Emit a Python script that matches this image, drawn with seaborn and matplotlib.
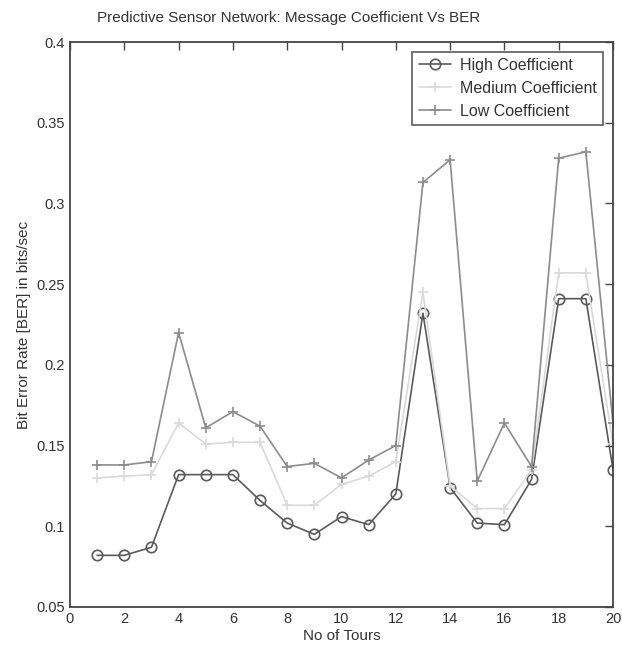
import matplotlib
matplotlib.use("Agg")
import matplotlib.pyplot as plt
import seaborn as sns
import pandas as pd

tours = list(range(1, 21))
high = [0.082, 0.082, 0.087, 0.132, 0.132, 0.132, 0.116, 0.102, 0.095, 0.106,
        0.101, 0.120, 0.232, 0.124, 0.102, 0.101, 0.129, 0.241, 0.241, 0.135]
medium = [0.130, 0.131, 0.132, 0.164, 0.151, 0.152, 0.152, 0.113, 0.113, 0.126,
          0.131, 0.140, 0.245, 0.125, 0.111, 0.111, 0.135, 0.257, 0.257, 0.151]
low = [0.138, 0.138, 0.140, 0.220, 0.161, 0.171, 0.162, 0.137, 0.139, 0.130,
       0.141, 0.150, 0.313, 0.327, 0.128, 0.164, 0.137, 0.328, 0.332, 0.164]
series_names = ["High Coefficient", "Medium Coefficient", "Low Coefficient"]
title = "Predictive Sensor Network: Message Coefficient Vs BER"
xlabel = "No of Tours"
ylabel = "Bit Error Rate [BER] in bits/sec"
yticks = [0.05, 0.1, 0.15, 0.2, 0.25, 0.3, 0.35, 0.4]
ytick_labels = ["0.05", "0.1", "0.15", "0.2", "0.25", "0.3", "0.35", "0.4"]
xticks = list(range(0, 21, 2))

sns.set_style("white")
plt.rcParams["font.family"] = ["Liberation Sans", "DejaVu Sans"]

fig = plt.figure(figsize=(6.22, 6.67), dpi=100)
ax = fig.add_axes([70 / 622, 1 - 607 / 667, (613 - 70) / 622, (607 - 42) / 667])

colors = ["#5a5a5a", "#dadada", "#8c8c8c"]
marks = ["o", "+", "+"]
for name, vals, c, m in zip(series_names, [high, medium, low], colors, marks):
    d = pd.DataFrame({"tour": tours, "ber": vals})
    sns.lineplot(data=d, x="tour", y="ber", ax=ax, color=c, marker=m,
                 linewidth=1.2, markersize=7.5, markerfacecolor="none",
                 markeredgecolor=c, markeredgewidth=1.2, label=name)

ax.set_xlim(0, 20)
ax.set_ylim(0.05, 0.4)
ax.set_xticks(xticks)
ax.set_yticks(yticks)
ax.set_yticklabels(ytick_labels)
ax.tick_params(direction="in", length=6, width=1, labelsize=10.5,
               top=True, right=True, color="#444444", labelcolor="#333333")
for s in ax.spines.values():
    s.set_color("#444444")
    s.set_linewidth(1.3)

ax.set_xlabel(xlabel, fontsize=11, color="#333333", labelpad=2)
ax.set_ylabel(ylabel, fontsize=11, color="#333333", labelpad=4)
fig.text(289 / 622, 1 - 18 / 667, title, ha="center", va="center",
         fontsize=11, color="#333333")

leg = ax.legend(loc="upper right", fontsize=11.5, frameon=True, fancybox=False,
                borderaxespad=0.6, handlelength=2.0, labelspacing=0.5,
                borderpad=0.4, handletextpad=0.6)
leg.get_frame().set_edgecolor("#333333")
leg.get_frame().set_linewidth(1.2)
for t in leg.get_texts():
    t.set_color("#333333")

fig.savefig("out.png", dpi=100)
